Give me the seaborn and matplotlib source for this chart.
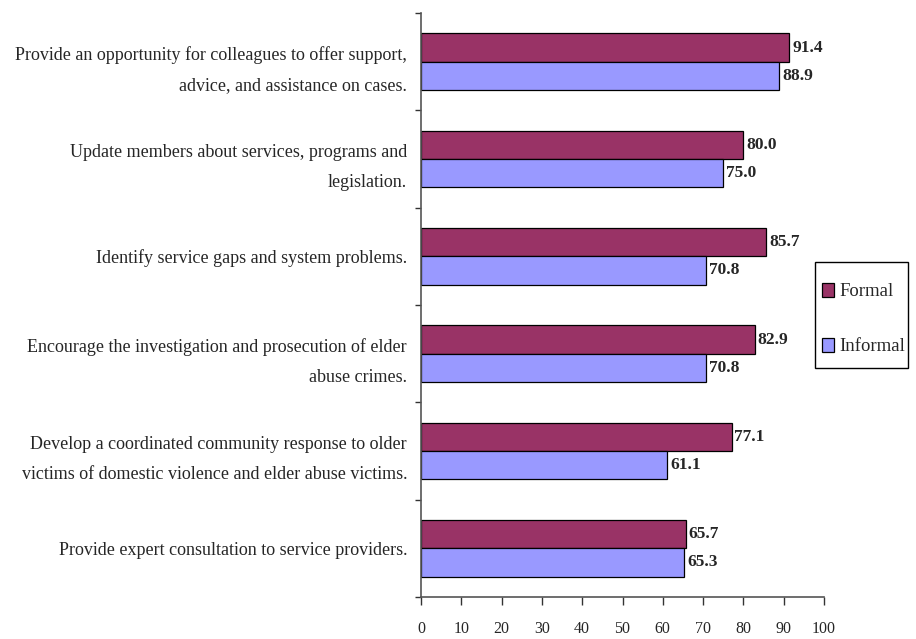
import matplotlib
matplotlib.use("Agg")
import matplotlib.pyplot as plt
import seaborn as sns
import pandas as pd
from matplotlib.ticker import FixedLocator
from matplotlib.patches import Patch, Rectangle

categories = [
    "Provide an opportunity for colleagues to offer support,\nadvice, and assistance on cases.",
    "Update members about services, programs and\nlegislation.",
    "Identify service gaps and system problems.",
    "Encourage the investigation and prosecution of elder\nabuse crimes.",
    "Develop a coordinated community response to older\nvictims of domestic violence and elder abuse victims.",
    "Provide expert consultation to service providers.",
]
formal = [91.4, 80.0, 85.7, 82.9, 77.1, 65.7]
informal = [88.9, 75.0, 70.8, 70.8, 61.1, 65.3]
series = ["Formal", "Informal"]
colors = ["#993366", "#9999FF"]
xticks = [0, 10, 20, 30, 40, 50, 60, 70, 80, 90, 100]

sns.set_style("white")
plt.rcParams["font.family"] = ["Liberation Serif", "DejaVu Serif"]

df = pd.DataFrame({
    "category": categories * 2,
    "value": formal + informal,
    "series": [series[0]] * len(categories) + [series[1]] * len(categories),
})

fig = plt.figure(figsize=(9.16, 6.39), dpi=100)
ax = fig.add_axes([421 / 916, 1 - 597 / 639, (824 - 421) / 916, (597 - 13) / 639])

sns.barplot(data=df, y="category", x="value", hue="series", order=categories,
            hue_order=series, palette=colors, orient="h", width=0.58,
            edgecolor="black", linewidth=0.9, saturation=1, ax=ax, legend=False)

for cont in ax.containers:
    ax.bar_label(cont, fmt="%.1f", padding=2, fontsize=12.5, fontweight="bold")

ax.set_xlim(0, 100)
ax.set_ylim(len(categories) - 0.5, -0.5)
ax.set_xticks(xticks)
ax.set_xticklabels([str(t) for t in xticks], fontsize=11.5)
ax.set_xlabel("")
ax.set_ylabel("")
ax.set_yticks(range(len(categories)))
ax.set_yticklabels(categories, fontsize=13, linespacing=2.0, ha="right")
ax.yaxis.set_minor_locator(FixedLocator([i - 0.5 for i in range(len(categories) + 1)]))
ax.tick_params(axis="y", which="major", length=0, pad=10)
ax.tick_params(axis="y", which="minor", length=4.5, width=1, color="#333333", direction="out", left=True)
ax.tick_params(axis="x", which="major", length=6, width=1, color="#333333", direction="out", pad=11, bottom=True)
for s in ["top", "right"]:
    ax.spines[s].set_visible(False)
for s in ["left", "bottom"]:
    ax.spines[s].set_color("#555555")
    ax.spines[s].set_linewidth(1.2)

# legend frame
W, H = 916, 639
fig.patches.append(Rectangle((815 / W, 1 - 368 / H), (908 - 815) / W, (368 - 262) / H,
                             transform=fig.transFigure, facecolor="white",
                             edgecolor="black", linewidth=1, zorder=0))
handles = [Patch(facecolor=c, edgecolor="black", linewidth=0.9) for c in colors]
leg = fig.legend(handles, series, loc="upper left",
                 bbox_to_anchor=(822 / W, 1 - 283 / H), fontsize=13.5,
                 frameon=False, handlelength=0.64, handleheight=0.75,
                 handletextpad=0.3, labelspacing=2.0, borderpad=0, borderaxespad=0)

fig.savefig("out.png", dpi=100)
